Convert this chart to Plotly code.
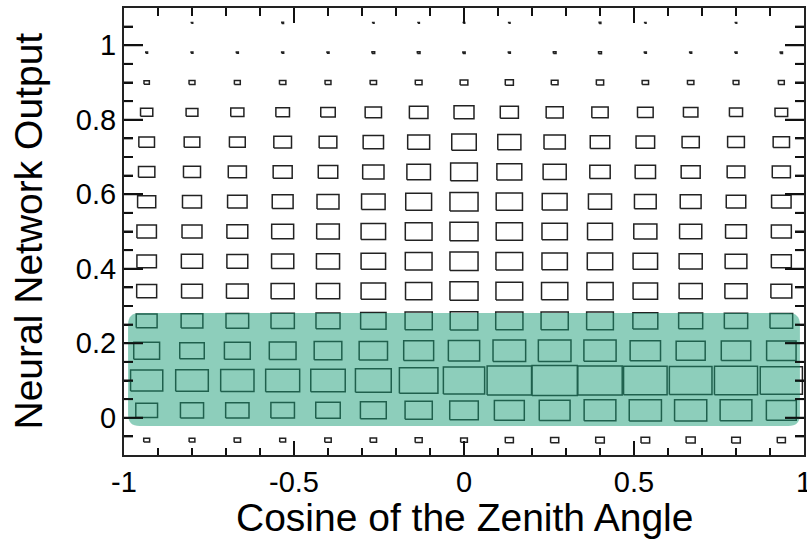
import numpy as np
import plotly.graph_objects as go

# ---- binning (15 x 15 histogram) ----
x_edges = np.linspace(-1.0, 1.0, 16)
y_edges = np.linspace(-0.1, 1.1, 16)

# ---- cell contents, one list per NN-output row (bottom -> top), 15 cos(zenith) bins each ----
row_m0p06 = [17, 16, 20, 17, 20, 20, 24, 22, 32, 32, 36, 36, 40, 36, 32]
row_0p02 = [230, 260, 265, 270, 292, 325, 360, 397, 436, 462, 490, 504, 504, 490, 436]
row_0p10 = [504, 518, 540, 563, 578, 624, 723, 828, 960, 1000, 960, 922, 884, 903, 865]
row_0p18 = [325, 292, 325, 348, 372, 391, 436, 476, 518, 518, 504, 449, 410, 422, 422]
row_0p26 = [212, 230, 250, 265, 281, 314, 360, 372, 360, 360, 348, 302, 281, 265, 250]
row_0p34 = [194, 212, 230, 260, 265, 292, 336, 384, 348, 336, 336, 292, 260, 240, 212]
row_0p42 = [185, 221, 212, 240, 260, 292, 348, 384, 348, 314, 314, 292, 260, 230, 194]
row_0p50 = [185, 194, 212, 235, 250, 292, 348, 384, 336, 314, 302, 260, 240, 212, 194]
row_0p58 = [160, 176, 185, 212, 235, 270, 325, 384, 336, 302, 260, 230, 212, 185, 185]
row_0p66 = [130, 141, 160, 176, 185, 221, 270, 348, 302, 260, 202, 202, 176, 152, 160]
row_0p74 = [119, 119, 122, 152, 152, 202, 235, 292, 260, 221, 185, 168, 144, 137, 130]
row_0p82 = [73, 68, 84, 90, 102, 130, 168, 194, 160, 141, 130, 119, 102, 84, 78]
row_0p90 = [14, 17, 17, 20, 17, 20, 22, 29, 32, 22, 26, 20, 20, 16, 17]
row_0p98 = [1.6, 1.6, 2, 2, 2, 3.6, 3.6, 2.5, 2, 3.6, 4.2, 2, 2, 2, 2.5]
row_1p06 = [0, 1, 0, 1.5, 0, 1, 1, 1, 1, 0, 1.5, 1, 0, 1, 0]

counts = np.array([row_m0p06, row_0p02, row_0p10, row_0p18, row_0p26, row_0p34, row_0p42,
                   row_0p50, row_0p58, row_0p66, row_0p74, row_0p82, row_0p90, row_0p98,
                   row_1p06], dtype=float)

# ---- tick labels ----
x_tickvals = [-1, -0.5, 0, 0.5, 1]
x_ticktext = ["-1", "-0.5", "0", "0.5", "1"]
y_tickvals = [0, 0.2, 0.4, 0.6, 0.8, 1.0]
y_ticktext = ["0", "0.2", "0.4", "0.6", "0.8", "1"]
x_minor_step = 0.1
y_minor_step = 0.05

# highlighted (signal) region
band_x = (-0.988, 0.988)
band_y = (-0.022, 0.281)

# ---- layout geometry ----
W, H = 807, 539
ML, MR, MT, MB = 124, 3, 8, 84
XR = (-1.0, 1.0)
YR = (-0.1, 1.1)
plot_w = W - ML - MR
plot_h = H - MT - MB

# ---- build box outlines (ROOT "BOX" style: box area proportional to content) ----
xc = 0.5 * (x_edges[:-1] + x_edges[1:])
yc = 0.5 * (y_edges[:-1] + y_edges[1:])
bw = np.diff(x_edges)
bh = np.diff(y_edges)
zmax = counts.max()
bx, by = [], []
for j in range(len(yc)):
    for i in range(len(xc)):
        z = counts[j, i]
        if z <= 0:
            continue
        r = np.sqrt(z / zmax)
        hw = 0.5 * r * bw[i]
        hh = 0.5 * r * bh[j]
        x0, x1 = xc[i] - hw, xc[i] + hw
        y0, y1 = yc[j] - hh, yc[j] + hh
        bx += [x0, x1, x1, x0, x0, None]
        by += [y0, y0, y1, y1, y0, None]

fig = go.Figure()
fig.add_trace(go.Scatter(x=bx, y=by, mode="lines",
                         line=dict(color="#222222", width=1.5),
                         hoverinfo="skip", showlegend=False))

# rounded highlight band
x0, x1 = band_x
y0, y1 = band_y
rx, ry = 0.034, 0.031
path = (f"M {x0+rx},{y0} L {x1-rx},{y0} Q {x1},{y0} {x1},{y0+ry} "
        f"L {x1},{y1-ry} Q {x1},{y1} {x1-rx},{y1} L {x0+rx},{y1} "
        f"Q {x0},{y1} {x0},{y1-ry} L {x0},{y0+ry} Q {x0},{y0} {x0+rx},{y0} Z")
fig.add_shape(type="path", path=path, xref="x", yref="y",
              fillcolor="rgba(27,158,119,0.5)", line=dict(width=0), layer="above")

# ---- ROOT-style inward ticks on all four sides, drawn as line shapes ----
def ticks_between(lo, hi, step):
    n = int(round((hi - lo) / step))
    return [round(lo + k * step, 6) for k in range(n + 1)]

x_minor = [v for v in ticks_between(XR[0], XR[1], x_minor_step)
           if all(abs(v - m) > 1e-6 for m in x_tickvals)]
y_minor = [v for v in ticks_between(YR[0], YR[1], y_minor_step)
           if all(abs(v - m) > 1e-6 for m in y_tickvals)]
tick_line = dict(color="#111111", width=2)
for vals, lb, lt in ((x_tickvals, 14, 15), (x_minor, 7, 8)):
    for v in vals:
        if XR[0] < v < XR[1]:
            fig.add_shape(type="line", xref="x", yref="paper", x0=v, x1=v,
                          y0=0, y1=lb / plot_h, line=tick_line, layer="above")
            fig.add_shape(type="line", xref="x", yref="paper", x0=v, x1=v,
                          y0=1, y1=1 - lt / plot_h, line=tick_line, layer="above")
for vals, ln in ((y_tickvals, 19), (y_minor, 9)):
    for v in vals:
        if YR[0] < v < YR[1]:
            fig.add_shape(type="line", xref="paper", yref="y", x0=0, x1=ln / plot_w,
                          y0=v, y1=v, line=tick_line, layer="above")
            fig.add_shape(type="line", xref="paper", yref="y", x0=1, x1=1 - ln / plot_w,
                          y0=v, y1=v, line=tick_line, layer="above")

font = "Liberation Sans, Arial, Helvetica, sans-serif"
axis_common = dict(showline=True, linecolor="#222222", linewidth=2, mirror="allticks",
                   ticks="inside", tickcolor="#111111", tickwidth=2, automargin=False,
                   showgrid=False, zeroline=False, ticklabeloverflow="allow",
                   tickfont=dict(family=font, size=29, color="black"))

fig.update_xaxes(range=list(XR), tickmode="array", tickvals=x_tickvals, ticktext=x_ticktext,
                 ticklen=14,
                 minor=dict(tickmode="array", tickvals=x_minor, ticklen=7, ticks="inside",
                            tickcolor="#111111", tickwidth=2, showgrid=False),
                 **axis_common)
fig.update_yaxes(range=list(YR), tickmode="array", tickvals=y_tickvals,
                 ticktext=y_ticktext, ticklen=19,
                 minor=dict(tickmode="array", tickvals=y_minor, ticklen=9, ticks="inside",
                            tickcolor="#111111", tickwidth=2, showgrid=False),
                 **axis_common)

fig.add_annotation(text="Cosine of the Zenith Angle", xref="paper", yref="paper",
                   x=0.5, y=0, xanchor="center", yanchor="middle", yshift=-62,
                   showarrow=False, font=dict(family=font, size=39, color="black"))
fig.add_annotation(text="Neural Network Output", xref="paper", yref="paper",
                   x=0, y=0.5, xanchor="center", yanchor="middle", xshift=-96,
                   textangle=-90, showarrow=False,
                   font=dict(family=font, size=39, color="black"))

fig.update_layout(width=W, height=H, margin=dict(l=ML, r=MR, t=MT, b=MB, autoexpand=False),
                  paper_bgcolor="white", plot_bgcolor="white", showlegend=False)

fig.write_html("out.html")
